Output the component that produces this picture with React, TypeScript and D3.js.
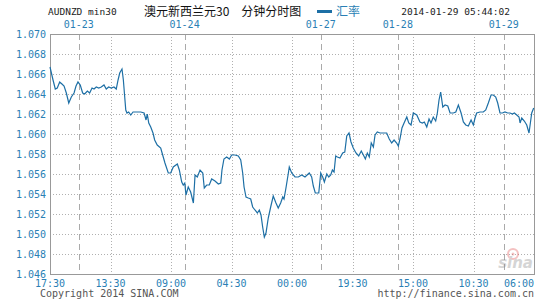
import React from "react";
import * as d3 from "d3";

// ---- data ----
const barIndex: number[] = [
  0.0, 2.0, 3.5, 4.8, 6.4, 7.9, 9.3, 10.8, 12.4, 14.1, 15.9, 17.2, 18.5, 20.0, 21.6, 22.9, 24.7, 26.2, 27.8, 29.1,
  30.6, 32.2, 33.9, 35.7, 37.2, 38.8, 40.5, 42.3, 43.8, 45.0, 46.1, 47.6, 48.5, 49.4, 50.1, 50.9, 52.0, 53.4, 54.9, 57.1,
  60.0, 62.2, 63.5, 64.3, 65.3, 66.6, 68.1, 69.2, 70.9, 73.2, 74.5, 76.0, 78.2, 79.8, 81.5, 84.2, 85.5, 87.1, 88.1, 89.1,
  89.9, 91.4, 93.0, 94.8, 95.9, 97.4, 99.2, 101.0, 102.0, 103.6, 105.3, 106.9, 109.1, 111.3, 112.9, 113.7, 115.0, 116.8, 118.6, 120.1,
  122.3, 124.5, 126.1, 127.4, 128.3, 129.6, 131.1, 132.7, 134.0, 135.5, 137.1, 138.4, 139.5, 140.6, 141.7, 142.8, 144.3, 145.9, 147.6, 149.4,
  150.9, 152.5, 153.9, 154.7, 156.0, 157.6, 158.2, 159.8, 162.0, 164.2, 166.4, 168.6, 171.4, 173.0, 174.1, 175.4, 177.7, 179.0, 180.3, 181.4,
  183.0, 184.3, 185.6, 186.7, 187.8, 188.9, 190.0, 191.7, 193.5, 194.9, 196.2, 197.7, 199.0, 200.5, 202.3, 204.1, 205.8, 207.2, 208.5, 209.8,
  211.1, 212.4, 213.8, 214.9, 216.4, 218.2, 220.4, 222.6, 224.3, 225.9, 227.5, 229.2, 230.3, 231.4, 232.7, 234.1, 235.9, 237.2, 238.7, 240.2,
  242.5, 244.6, 246.2, 247.5, 249.1, 250.6, 251.9, 253.4, 255.0, 256.1, 257.2, 258.3, 259.7, 261.2, 263.0, 264.5, 266.7, 268.3, 270.0, 271.8,
  273.3, 274.9, 276.6, 278.4, 279.9, 281.0, 282.1, 284.3, 286.5, 288.1, 289.8, 291.6, 293.1, 294.7, 296.0, 297.5, 299.1, 300.8, 302.6, 304.2,
  305.7, 307.0, 308.6, 310.1, 310.8, 311.9, 313.6, 315.2, 316.7, 317.6, 318.5, 319.8,
];

const rate: number[] = [
  1.0667, 1.0654, 1.0645, 1.0646, 1.0652, 1.065, 1.0648, 1.0641, 1.0631, 1.0637, 1.0641, 1.0648, 1.0652, 1.0649, 1.0641, 1.064, 1.0643, 1.0641, 1.0646, 1.0645,
  1.0647, 1.0646, 1.0647, 1.0649, 1.0645, 1.0647, 1.0646, 1.0647, 1.0645, 1.0654, 1.0661, 1.0665, 1.0654, 1.0637, 1.0624, 1.0621, 1.0622, 1.0619, 1.0622, 1.0622,
  1.0622, 1.0621, 1.0614, 1.062, 1.0611, 1.0607, 1.0601, 1.0594, 1.0589, 1.0586, 1.0579, 1.0571, 1.0561, 1.0561, 1.0567, 1.057, 1.0564, 1.0552, 1.0549, 1.0551,
  1.0539, 1.0547, 1.0542, 1.0531, 1.0559, 1.0557, 1.0564, 1.0561, 1.0546, 1.0549, 1.0549, 1.0555, 1.0553, 1.055, 1.0551, 1.0564, 1.0575, 1.0577, 1.0575, 1.0579,
  1.0579, 1.0578, 1.0574, 1.0561, 1.0547, 1.0537, 1.0536, 1.0535, 1.0527, 1.0524, 1.0521, 1.0524, 1.0519, 1.0507, 1.0497, 1.0501, 1.0516, 1.0527, 1.0538, 1.0531,
  1.0526, 1.0531, 1.0537, 1.0535, 1.0546, 1.0561, 1.0567, 1.0561, 1.0557, 1.0557, 1.0559, 1.0557, 1.0561, 1.0557, 1.0548, 1.0541, 1.0541, 1.0561, 1.0557, 1.0552,
  1.056, 1.0557, 1.0559, 1.0564, 1.0562, 1.0578, 1.0577, 1.0576, 1.0581, 1.0582, 1.0598, 1.0601, 1.0592, 1.0586, 1.0581, 1.0578, 1.0583, 1.0579, 1.0575, 1.0581,
  1.0577, 1.0591, 1.0587, 1.0599, 1.0602, 1.0601, 1.0601, 1.0601, 1.0595, 1.0591, 1.0594, 1.0591, 1.0588, 1.0595, 1.0606, 1.0611, 1.0617, 1.0611, 1.0609, 1.0621,
  1.0619, 1.0612, 1.0611, 1.0612, 1.0607, 1.0615, 1.0611, 1.0617, 1.0613, 1.0621, 1.0634, 1.0642, 1.0627, 1.0629, 1.0628, 1.0621, 1.0621, 1.0622, 1.0629, 1.0621,
  1.0612, 1.0609, 1.0608, 1.0614, 1.0609, 1.0616, 1.0621, 1.0622, 1.0622, 1.0624, 1.0631, 1.0639, 1.0639, 1.0637, 1.0631, 1.0621, 1.0621, 1.0622, 1.0621, 1.0621,
  1.062, 1.0621, 1.0619, 1.0617, 1.0611, 1.0616, 1.0613, 1.0609, 1.0601, 1.0611, 1.0621, 1.0626,
];

const yTicks: number[] = [1.046, 1.048, 1.05, 1.052, 1.054, 1.056, 1.058, 1.06, 1.062, 1.064, 1.066, 1.068, 1.07];
const timeLabels: string[] = ["17:30", "13:30", "09:00", "04:30", "00:00", "19:30", "15:00", "10:30", "06:00"];
const dateLabels: string[] = ["01-23", "01-24", "01-27", "01-28", "01-29"];
const dateBreakBars: number[] = [19, 89, 179, 230, 300];
const BARS_PER_LABEL = 40;
const TOTAL_BARS = 320;

const W = 545;
const H = 300;
const left = 50;
const right = 534;
const top = 34;
const bottom = 274;

const mono = "'DejaVu Sans Mono', 'Liberation Mono', monospace";
const cjk = "'Noto Sans CJK SC', 'Noto Sans', sans-serif";
const blue = "#1d6fa5";
const labelBlue = "#2a7fb5";
const gridColor = "#b0b0b0";

export default function App() {
  const x = d3.scaleLinear().domain([0, TOTAL_BARS]).range([left, right]);
  const y = d3.scaleLinear().domain([1.046, 1.07]).range([bottom, top]);
  const pts: [number, number][] = barIndex.map((b, i) => [b, rate[i]]);
  const line = d3
    .line<[number, number]>()
    .x((d) => x(d[0]))
    .y((d) => y(d[1]));

  const slots = d3.range(0, TOTAL_BARS + 1, BARS_PER_LABEL);

  return (
    <svg
      width={W}
      height={H}
      style={{ position: "absolute", left: 0, top: 0, background: "#fff" }}
    >
      <rect x={0} y={0} width={W} height={H} fill="#fff" />
      {/* header */}
      <text x={48} y={15} fontFamily={mono} fontSize={9.5} fill="#222">
        AUDNZD min30
      </text>
      <text x={144} y={16} fontFamily={cjk} fontSize={12} fill="#111">
        澳元新西兰元30　分钟分时图
      </text>
      <line x1={317} x2={332} y1={11.5} y2={11.5} stroke={blue} strokeWidth={3} />
      <text x={336} y={16} fontFamily={cjk} fontSize={12} fill={labelBlue}>
        汇率
      </text>
      <text x={510} y={15} textAnchor="end" fontFamily={mono} fontSize={9.5} fill="#222">
        2014-01-29 05:44:02
      </text>

      {/* horizontal grid */}
      {yTicks.map((t) => (
        <line
          key={"h" + t}
          x1={left}
          x2={right}
          y1={Math.round(y(t)) + 0.5}
          y2={Math.round(y(t)) + 0.5}
          stroke={gridColor}
          strokeDasharray="1,2"
        />
      ))}
      {/* vertical grid */}
      {slots.map((s) => (
        <line
          key={"v" + s}
          x1={Math.round(x(s)) + 0.5}
          x2={Math.round(x(s)) + 0.5}
          y1={top}
          y2={bottom}
          stroke={gridColor}
          strokeDasharray="1,2"
        />
      ))}
      {/* date separators */}
      {dateBreakBars.map((b) => (
        <line
          key={"d" + b}
          x1={Math.round(x(b)) + 0.5}
          x2={Math.round(x(b)) + 0.5}
          y1={top}
          y2={bottom}
          stroke="#aaaaaa"
          strokeDasharray="6,4"
        />
      ))}
      {/* frame */}
      <rect
        x={left + 0.5}
        y={top + 0.5}
        width={right - left}
        height={bottom - top}
        fill="none"
        stroke="#999"
        strokeWidth={1}
      />

      {/* y labels */}
      {yTicks.map((t) => (
        <text
          key={"yl" + t}
          x={46}
          y={y(t) + 4}
          textAnchor="end"
          fontFamily={mono}
          fontSize={10}
          fill={labelBlue}
        >
          {d3.format(".3f")(t)}
        </text>
      ))}
      {/* date labels */}
      {dateLabels.map((l, i) => (
        <text
          key={"dl" + l}
          x={x(dateBreakBars[i])}
          y={28}
          textAnchor="middle"
          fontFamily={mono}
          fontSize={10}
          fill={labelBlue}
        >
          {l}
        </text>
      ))}
      {/* time labels */}
      {timeLabels.map((l, i) => (
        <text
          key={"tl" + i}
          x={x(slots[i])}
          y={287}
          textAnchor={i === timeLabels.length - 1 ? "end" : "middle"}
          fontFamily={mono}
          fontSize={10}
          fill={labelBlue}
        >
          {l}
        </text>
      ))}

      {/* watermark */}
      <g opacity={0.35}>
        <circle cx={513} cy={254} r={5} fill="none" stroke="#e05050" strokeWidth={2} />
        <circle cx={513} cy={254} r={1.5} fill="#e05050" />
        <text
          x={533}
          y={268}
          textAnchor="end"
          fontFamily="'DejaVu Sans', sans-serif"
          fontStyle="italic"
          fontWeight="bold"
          fontSize={15}
          fill="#888"
        >
          sina
        </text>
      </g>

      {/* series line */}
      <path d={line(pts) || ""} fill="none" stroke={blue} strokeWidth={1.2} />

      {/* footer */}
      <text x={40} y={297} fontFamily={mono} fontSize={10} fill="#555">
        Copyright 2014 SINA.COM
      </text>
      <text x={534} y={297} textAnchor="end" fontFamily={mono} fontSize={10} fill="#555">
        http://finance.sina.com.cn
      </text>
    </svg>
  );
}
